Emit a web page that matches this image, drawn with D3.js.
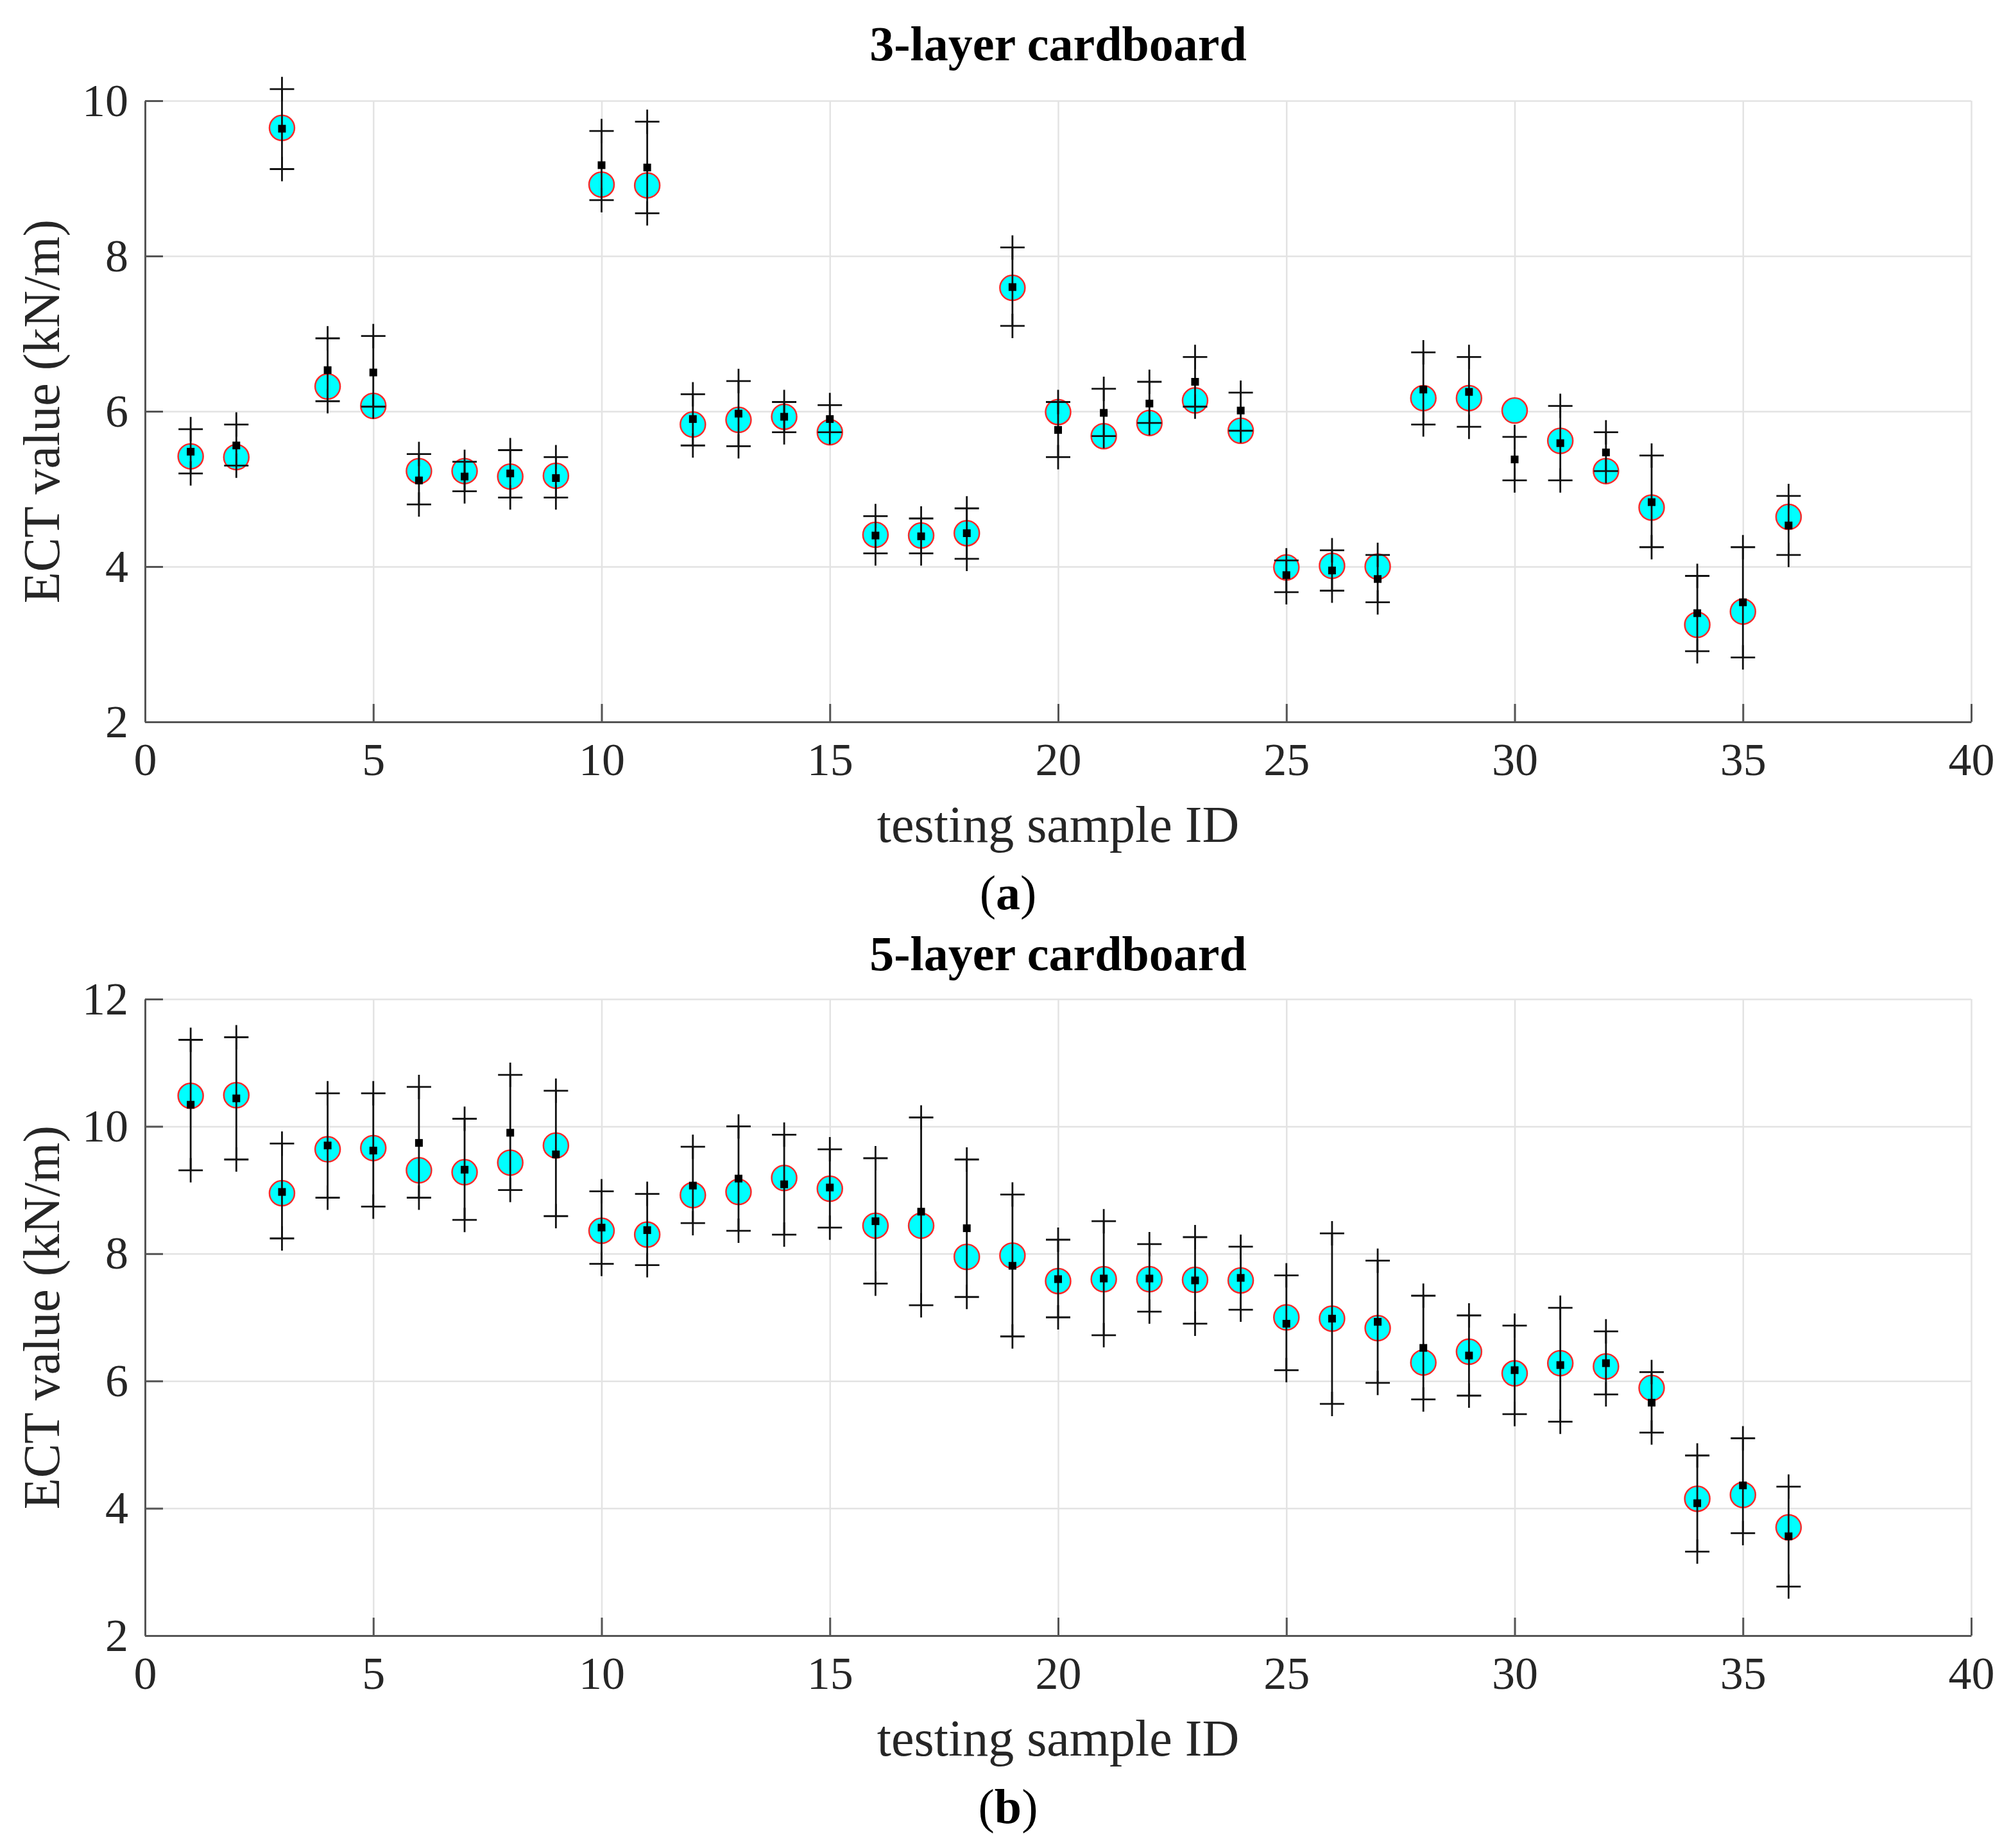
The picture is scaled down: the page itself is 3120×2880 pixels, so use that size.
<!DOCTYPE html>
<html>
<head>
<meta charset="utf-8">
<script src="https://cdn.jsdelivr.net/npm/d3@7"></script>
<style>
  body { margin: 0; background: #fff; }
</style>
</head>
<body>
<div id="chart"></div>
<script>
// sample ids on the x axis
const sampleIds = [1, 2, 3, 4, 5, 6, 7, 8, 9, 10, 11, 12, 13, 14, 15, 16, 17, 18,
  19, 20, 21, 22, 23, 24, 25, 26, 27, 28, 29, 30, 31, 32, 33, 34, 35, 36];
const xTicks = [0, 5, 10, 15, 20, 25, 30, 35, 40];

// (a) 3-layer cardboard
const yTicks3 = [2, 4, 6, 8, 10];
const circle3 = [5.42, 5.41, 9.65, 6.32, 6.07, 5.23, 5.23, 5.16, 5.17, 8.92, 8.91, 5.83, 5.89, 5.93, 5.73, 4.41, 4.40, 4.43,
  7.59, 5.99, 5.68, 5.85, 6.14, 5.75, 3.99, 4.01, 4.00, 6.17, 6.17, 6.01, 5.62, 5.23, 4.76, 3.25, 3.42, 4.64];
const square3 = [5.48, 5.56, 9.64, 6.53, 6.50, 5.11, 5.16, 5.20, 5.14, 9.17, 9.14, 5.90, 5.97, 5.93, 5.90, 4.40, 4.39, 4.43,
  7.60, 5.76, 5.98, 6.10, 6.38, 6.01, 3.89, 3.95, 3.84, 6.28, 6.25, 5.38, 5.59, 5.47, 4.83, 3.40, 3.54, 4.53];
const upper3 = [5.77, 5.83, 10.15, 6.94, 6.97, 5.45, 5.35, 5.50, 5.41, 9.61, 9.73, 6.22, 6.39, 6.12, 6.08, 4.65, 4.62, 4.75,
  8.11, 6.12, 6.29, 6.38, 6.70, 6.24, 4.08, 4.21, 4.15, 6.76, 6.70, 5.67, 6.07, 5.73, 5.43, 3.88, 4.25, 4.91];
const lower3 = [5.20, 5.30, 9.12, 6.13, 6.06, 4.80, 4.97, 4.89, 4.89, 8.72, 8.55, 5.56, 5.55, 5.73, 5.73, 4.17, 4.17, 4.10,
  7.10, 5.41, 5.68, 5.85, 6.06, 5.75, 3.67, 3.69, 3.54, 5.83, 5.80, 5.11, 5.11, 5.23, 4.25, 2.91, 2.83, 4.15];

// (b) 5-layer cardboard
const yTicks5 = [2, 4, 6, 8, 10, 12];
const circle5 = [10.48, 10.49, 8.95, 9.64, 9.66, 9.31, 9.28, 9.43, 9.70, 8.36, 8.30, 8.92, 8.97, 9.19, 9.02, 8.44, 8.44, 7.95,
  7.97, 7.57, 7.60, 7.60, 7.59, 7.58, 7.00, 6.98, 6.83, 6.29, 6.46, 6.12, 6.28, 6.23, 5.89, 4.15, 4.21, 3.70];
const square5 = [10.34, 10.44, 8.97, 9.70, 9.62, 9.74, 9.32, 9.90, 9.56, 8.41, 8.37, 9.07, 9.18, 9.09, 9.04, 8.51, 8.66, 8.40,
  7.81, 7.60, 7.61, 7.61, 7.58, 7.62, 6.90, 6.98, 6.93, 6.52, 6.40, 6.17, 6.25, 6.28, 5.66, 4.08, 4.36, 3.56];
const upper5 = [11.36, 11.40, 9.73, 10.52, 10.52, 10.62, 10.12, 10.81, 10.56, 8.98, 8.94, 9.68, 10.00, 9.87, 9.64, 9.50, 10.14, 9.48,
  8.93, 8.22, 8.51, 8.15, 8.26, 8.11, 7.66, 8.32, 7.89, 7.34, 7.03, 6.87, 7.15, 6.78, 6.14, 4.83, 5.10, 4.34];
const lower5 = [9.31, 9.48, 8.24, 8.88, 8.74, 8.88, 8.53, 9.00, 8.59, 7.84, 7.82, 8.48, 8.36, 8.30, 8.41, 7.53, 7.19, 7.32,
  6.70, 7.00, 6.72, 7.09, 6.90, 7.12, 6.17, 5.64, 5.97, 5.71, 5.77, 5.48, 5.36, 5.79, 5.19, 3.32, 3.61, 2.77];

const width = 3120;
const height = 2880;
const font = "'Liberation Serif', 'Times New Roman', serif";

const svg = d3.select("#chart")
  .append("svg")
  .attr("width", width)
  .attr("height", height)
  .attr("viewBox", [0, 0, width, height])
  .style("background", "#fff");

function drawPanel(top, bottom, titleY, yTicks, circles, squares, upper, lower, title, tag) {
  const x = d3.scaleLinear().domain([0, 40]).range([226, 3072]);
  const y = d3.scaleLinear().domain([yTicks[0], yTicks[yTicks.length - 1]]).range([bottom, top]);
  const g = svg.append("g");

  // grid
  g.append("g")
    .attr("transform", `translate(0,${bottom})`)
    .call(d3.axisBottom(x).tickValues(xTicks).tickSize(-(bottom - top)).tickFormat(""))
    .call(s => s.select(".domain").remove())
    .call(s => s.selectAll("line").attr("stroke", "#e3e3e3").attr("stroke-width", 2.5));
  g.append("g")
    .attr("transform", `translate(226,0)`)
    .call(d3.axisLeft(y).tickValues(yTicks).tickSize(-(3072 - 226)).tickFormat(""))
    .call(s => s.select(".domain").remove())
    .call(s => s.selectAll("line").attr("stroke", "#e3e3e3").attr("stroke-width", 2.5));

  // axes, ticks point inward
  const xa = g.append("g")
    .attr("transform", `translate(0,${bottom})`)
    .call(d3.axisBottom(x).tickValues(xTicks).tickSizeInner(-28).tickSizeOuter(0).tickPadding(32));
  const ya = g.append("g")
    .attr("transform", `translate(226,0)`)
    .call(d3.axisLeft(y).tickValues(yTicks).tickSizeInner(-28).tickSizeOuter(0).tickPadding(26));
  [xa, ya].forEach(a => {
    a.select(".domain").attr("stroke", "#555").attr("stroke-width", 3);
    a.selectAll("line").attr("stroke", "#555").attr("stroke-width", 3);
    a.selectAll("text")
      .attr("font-family", font)
      .attr("font-size", 72)
      .attr("fill", "#262626");
  });
  xa.selectAll("text").attr("dy", "0.71em");

  const idx = sampleIds.map((d, i) => i);

  // cyan circles
  g.append("g")
    .selectAll("circle")
    .data(idx)
    .join("circle")
    .attr("cx", i => x(sampleIds[i]))
    .attr("cy", i => y(circles[i]))
    .attr("r", 19.5)
    .attr("fill", "#00ffff")
    .attr("stroke", "#ff2a2a")
    .attr("stroke-width", 2.5);

  // error bars with + ends
  const bars = g.append("g").attr("stroke", "#111").attr("stroke-width", 2.8).attr("fill", "none");
  bars.selectAll("line")
    .data(idx)
    .join("line")
    .attr("x1", i => x(sampleIds[i]))
    .attr("x2", i => x(sampleIds[i]))
    .attr("y1", i => y(upper[i]))
    .attr("y2", i => y(lower[i]));
  const plus = (cx, cy) => `M${cx - 19},${cy}H${cx + 19}M${cx},${cy - 19}V${cy + 19}`;
  bars.selectAll("path")
    .data(idx)
    .join("path")
    .attr("d", i => plus(x(sampleIds[i]), y(upper[i])) + plus(x(sampleIds[i]), y(lower[i])));

  // black squares
  g.append("g")
    .selectAll("rect")
    .data(idx)
    .join("rect")
    .attr("x", i => x(sampleIds[i]) - 6)
    .attr("y", i => y(squares[i]) - 6)
    .attr("width", 12)
    .attr("height", 12)
    .attr("fill", "#000");

  // title and labels
  g.append("text")
    .attr("x", 1649).attr("y", titleY)
    .attr("text-anchor", "middle")
    .attr("font-family", font).attr("font-size", 76).attr("font-weight", "bold")
    .text(title);
  g.append("text")
    .attr("x", 1649).attr("y", bottom + 187)
    .attr("text-anchor", "middle")
    .attr("font-family", font).attr("font-size", 80).attr("fill", "#262626")
    .text("testing sample ID");
  g.append("text")
    .attr("transform", `translate(92,${(top + bottom) / 2}) rotate(-90)`)
    .attr("text-anchor", "middle")
    .attr("font-family", font).attr("font-size", 80).attr("fill", "#262626")
    .text("ECT value (kN/m)");
  const t = g.append("text")
    .attr("x", 1571).attr("y", bottom + 292)
    .attr("text-anchor", "middle")
    .attr("font-family", font).attr("font-size", 76);
  t.append("tspan").text("(");
  t.append("tspan").attr("font-weight", "bold").text(tag);
  t.append("tspan").text(")");
}

drawPanel(157, 1125, 94, yTicks3, circle3, square3, upper3, lower3, "3-layer cardboard", "a");
drawPanel(1557, 2549, 1512, yTicks5, circle5, square5, upper5, lower5, "5-layer cardboard", "b");
</script>
</body>
</html>
